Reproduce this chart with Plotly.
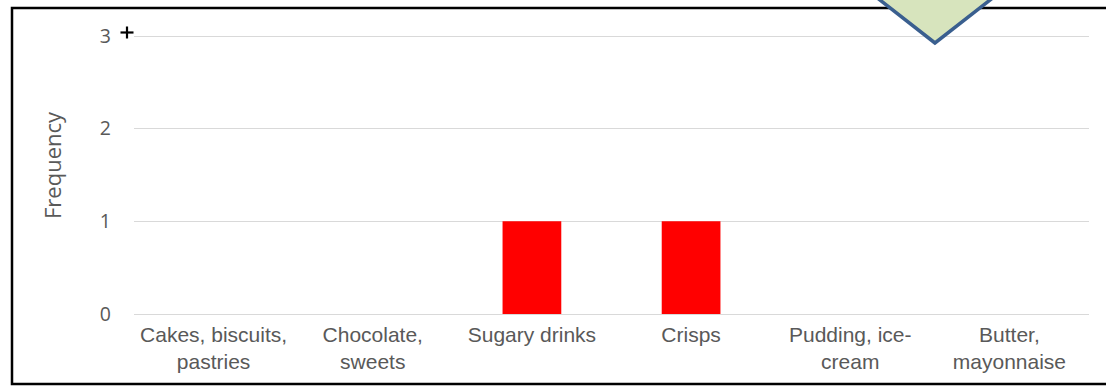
import plotly.graph_objects as go

categories = ["Cakes, biscuits,<br>pastries", "Chocolate,<br>sweets", "Sugary drinks",
              "Crisps", "Pudding, ice-<br>cream", "Butter,<br>mayonnaise"]
frequency = [0, 0, 1, 1, 0, 0]
y_ticks = [0, 1, 2, 3]

W, H = 1106, 386
L, R, T, B = 134, 17, 28, 72
PW, PH = W - L - R, H - T - B
UNIT = 278 / 3  # pixels per y unit (0 at y=314, 3 at y=36)
y_top = PH / UNIT


def px(x):
    return (x - L) / PW


def py(y):
    return (H - B - y) / PH


fig = go.Figure()
fig.add_trace(go.Bar(x=categories, y=frequency, marker=dict(color="#ff0000", line=dict(width=0))))

grid = "#d9d9d9"
fig.update_layout(
    width=W, height=H, autosize=False,
    margin=dict(l=L, r=R, t=T, b=B, pad=0),
    paper_bgcolor="white", plot_bgcolor="white",
    bargap=0.631, showlegend=False,
    xaxis=dict(showgrid=False, showline=False, ticks="",
               tickfont=dict(family="Liberation Sans, Arial", size=21, color="#595959"),
               ticklabelstandoff=6),
    yaxis=dict(range=[0, y_top], tickvals=y_ticks, showgrid=True, gridcolor=grid, gridwidth=1.3,
               zeroline=True, zerolinecolor=grid, zerolinewidth=1.3, showline=False, ticks="",
               tickfont=dict(family="Open Sans", size=19.5, color="#595959"),
               ticklabelstandoff=22),
    annotations=[dict(text="Frequency", xref="paper", yref="paper", x=px(52), y=py(165),
                      textangle=-90, showarrow=False, xanchor="center", yanchor="middle",
                      font=dict(family="Open Sans", size=22, color="#595959"))],
)

shapes = []
# outer frame
shapes.append(dict(type="rect", xref="paper", yref="paper",
                   x0=px(12), x1=px(1125), y0=py(384), y1=py(8),
                   line=dict(color="black", width=2.5), fillcolor="rgba(0,0,0,0)", layer="above"))
# plus marker
shapes.append(dict(type="line", xref="paper", yref="paper", x0=px(120.5), x1=px(133.5), y0=py(32.5), y1=py(32.5),
                   line=dict(color="black", width=2.2), layer="above"))
shapes.append(dict(type="line", xref="paper", yref="paper", x0=px(127), x1=px(127), y0=py(26.5), y1=py(38.5),
                   line=dict(color="black", width=2.2), layer="above"))
# green diamond callout (partially off the top)
cx, bottom, cy = 935, 43, -10
rx = 1.28 * (bottom - cy)
path = "M {},{} L {},{} L {},{} L {},{} Z".format(
    px(cx), py(bottom), px(cx - rx), py(cy), px(cx), py(2 * cy - bottom), px(cx + rx), py(cy))
shapes.append(dict(type="path", xref="paper", yref="paper", path=path,
                   fillcolor="#d7e4bd", line=dict(color="#3a5f8f", width=3.5), layer="above"))
fig.update_layout(shapes=shapes)

fig.write_html("out.html")
